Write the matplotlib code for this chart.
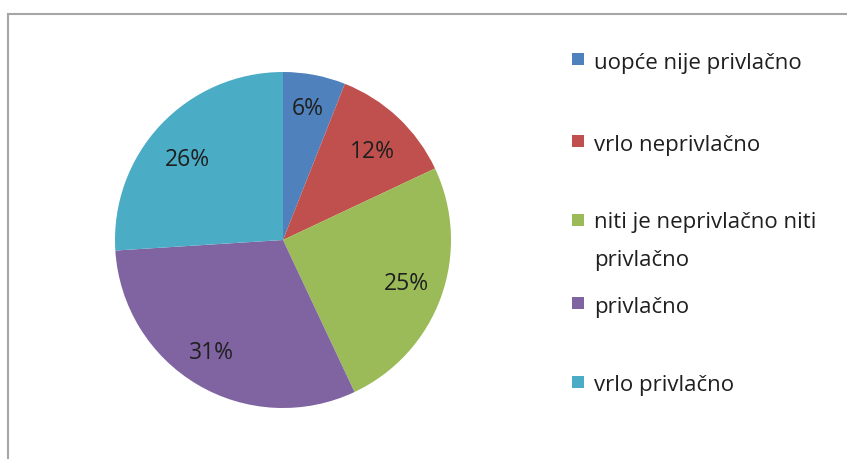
import matplotlib.pyplot as plt
from matplotlib.patches import Rectangle
from matplotlib.lines import Line2D
from matplotlib.transforms import offset_copy

labels = ['uopće nije privlačno', 'vrlo neprivlačno',
          'niti je neprivlačno niti\nprivlačno', 'privlačno', 'vrlo privlačno']
values = [6, 12, 25, 31, 26]
colors = ['#4F81BD', '#C0504D', '#9BBB59', '#8064A2', '#4BACC6']

plt.rcParams['font.family'] = ['Open Sans', 'DejaVu Sans']

W, H = 847, 459
fig = plt.figure(figsize=(W / 100, H / 100), dpi=100)

# pie area: centre (283, 240), radius 168 px
cx, cy, r = 283, 240, 168
ax = fig.add_axes([(cx - r) / W, (H - cy - r) / H, 2 * r / W, 2 * r / H])
wedges, texts, autotexts = ax.pie(values, colors=colors, startangle=90, counterclock=False,
                                  autopct='%1.0f%%', pctdistance=0.78,
                                  textprops={'fontsize': 16.5, 'color': '#1f1f1f'})
ax.set_xlim(-1, 1)
ax.set_ylim(-1, 1)
ax.set_aspect('equal')
ax.axis('off')

# Excel's "best fit" label placement differs a little from a plain radius
nudge = [(0, 2), (0, -8), (0, 0), (-5, 0), (0, -10)]  # pixels
for t, (dx, dy) in zip(autotexts, nudge):
    t.set_transform(offset_copy(t.get_transform(), fig=fig, x=dx, y=dy, units='dots'))

# chart frame (only top and left edges visible)
fig.add_artist(Line2D([8 / W, 1], [1 - 14 / H, 1 - 14 / H], transform=fig.transFigure,
                      color='#a6a6a6', lw=1.5))
fig.add_artist(Line2D([8 / W, 8 / W], [0, 1 - 14 / H], transform=fig.transFigure,
                      color='#a6a6a6', lw=1.5))

# legend drawn by hand to keep Excel's uneven spacing
leg_y = [61, 143, 222, 305, 384]
for lab, col, y in zip(labels, colors, leg_y):
    fig.add_artist(Rectangle((572 / W, 1 - (y + 4) / H), 12 / W, 12 / H,
                             transform=fig.transFigure, facecolor=col, edgecolor='none'))
    if '\n' in lab:
        fig.text(594 / W, 1 - (y - 10) / H, lab, fontsize=16, color='#1f1f1f',
                 va='top', ha='left', linespacing=2.05)
    else:
        fig.text(594 / W, 1 - (y + 2) / H, lab, fontsize=16, color='#1f1f1f',
                 va='center', ha='left')

fig.savefig('out.png', dpi=100)
